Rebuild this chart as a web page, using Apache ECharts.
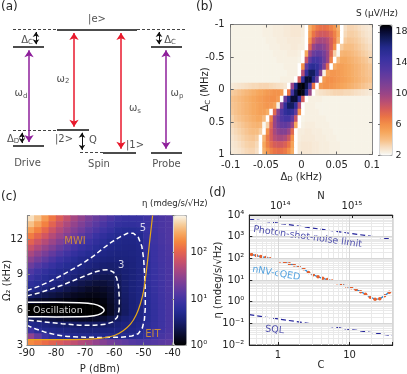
<!DOCTYPE html>
<html>
<head>
<meta charset="utf-8">
<script src="https://cdn.jsdelivr.net/npm/echarts@6/dist/echarts.min.js"></script>
<style>html,body{margin:0;padding:0;background:#fff}#main{width:407px;height:374px}</style>
</head>
<body>
<div id="main"></div>
<script>
// ---------- (a) level scheme: x = column position, y = energy (arb. units) ----------
var levelsSolid  = [[57,137,100],[13,44,86],[151,182,86],[57,89,18],[13,44,5.5],[103,136,0],[151,182,0]];
var levelsDashed = [[13,57,100],[137,187,100],[13,57,18],[80,103,0]];
var arrowsBlack  = [[36,100,86],[159,100,86],[22,18,5.5],[82,18,0]];
var arrowsPurple = [[29,86,5.5],[166,86,0]];
var arrowsRed    = [[74,100,18],[121,100,0]];
var aText = [['|e>',97,108.5],['Δ{s|C}',27,91.4],['Δ{s|C}',170,91.4],['ω{s|d}',21,47.9],
  ['ω{s|2}',63,59.7],['ω{s|s}',135,35.7],['ω{s|p}',177,47.9],['Δ{s|D}',13,10.8],
  ['|2>',64,10.8],['Q',93,9.6],['|1>',135,5.9],['Drive',27.5,-8.7],['Spin',99,-9.5],['Probe',166.5,-9.5]];

// ---------- (b) S(ΔD, ΔC) in µV/Hz, rows from ΔC = -0.95 (top) to 0.95 ----------
var bDd = [-0.0975,-0.0925,-0.0875,-0.0825,-0.0775,-0.0725,-0.0675,-0.0625,-0.0575,-0.0525,
  -0.0475,-0.0425,-0.0375,-0.0325,-0.0275,-0.0225,-0.0175,-0.0125,-0.0075,-0.0025,
  0.0025,0.0075,0.0125,0.0175,0.0225,0.0275,0.0325,0.0375,0.0425,0.0475,
  0.0525,0.0575,0.0625,0.0675,0.0725,0.0775,0.0825,0.0875,0.0925,0.0975];
var bDc = [-0.95,-0.85,-0.75,-0.65,-0.55,-0.45,-0.35,-0.25,-0.15,-0.05,0.05,0.15,0.25,0.35,0.45,0.55,0.65,0.75,0.85,0.95];
var bS = [
  [2.3,2.3,2.3,2.3,2.3,2.3,2.3,2.3,2.3,2.4,2.4,2.4,2.5,2.5,2.5,2.6,2.6,2.7,2.7,2.7,2.6,2.0,4.8,6,6.8,7.1,7.2,7,6.5,5.8,4.6,2.0,3.0,3.3,3.3,3.2,3.0,2.8,2.7,2.6],
  [2.3,2.3,2.3,2.3,2.3,2.3,2.3,2.3,2.3,2.4,2.4,2.4,2.5,2.5,2.5,2.6,2.6,2.7,2.7,2.7,2.6,2.0,5.2,7,7.8,8.2,8.2,8,7.4,6.5,5,2.0,3.2,3.5,3.5,3.4,3.2,3.0,2.8,2.7],
  [2.3,2.3,2.3,2.3,2.3,2.3,2.3,2.3,2.3,2.3,2.4,2.4,2.4,2.5,2.5,2.5,2.6,2.6,2.6,2.6,2.5,2.0,6,8.3,9.3,9.6,9.5,9,8,6.8,4.5,2.0,3.6,3.8,3.7,3.6,3.4,3.2,3.0,2.8],
  [2.3,2.3,2.3,2.3,2.3,2.3,2.3,2.3,2.3,2.3,2.3,2.4,2.4,2.4,2.5,2.5,2.5,2.6,2.6,2.5,2.5,2.0,7.5,10,11,11,10.5,9.5,8,6,2.0,3.6,4.1,4.1,4,3.8,3.6,3.4,3.2,3.0],
  [2.3,2.3,2.3,2.3,2.3,2.3,2.3,2.3,2.3,2.3,2.3,2.3,2.4,2.4,2.4,2.4,2.5,2.5,2.5,2.4,2.0,5,10,12,12.5,12.3,11.5,10,7.5,3.5,2.2,4.4,4.5,4.4,4.2,4,3.8,3.6,3.4,3.2],
  [2.3,2.3,2.3,2.3,2.3,2.3,2.3,2.3,2.3,2.3,2.3,2.3,2.3,2.4,2.4,2.4,2.4,2.4,2.4,2.3,2.0,8.5,12.5,14,14,13.3,12,10,6.5,2.0,4.2,4.9,4.9,4.7,4.5,4.3,4.1,3.9,3.7,3.4],
  [2.3,2.3,2.3,2.3,2.3,2.3,2.3,2.3,2.3,2.3,2.3,2.3,2.3,2.3,2.3,2.4,2.4,2.4,2.4,2.0,6,12.5,15,15.5,15,13.5,11,7.5,2.0,4.8,5.3,5.3,5.1,4.9,4.7,4.5,4.3,4.1,3.9,3.7],
  [2.3,2.3,2.3,2.3,2.3,2.3,2.3,2.3,2.3,2.3,2.3,2.3,2.3,2.3,2.3,2.3,2.4,2.4,2.4,2.0,9,15,17,17,15,11,2.4,5.2,5.7,5.7,5.5,5.3,5.1,4.9,4.7,4.5,4.3,4.1,3.9,3.8],
  [2.3,2.3,2.3,2.3,2.3,2.3,2.3,2.3,2.3,2.3,2.3,2.3,2.3,2.3,2.4,2.4,2.4,2.4,2.0,8,15,18,18,16,12,2.0,5.5,6,6,5.8,5.6,5.4,5.2,5,4.8,4.6,4.4,4.2,4.0,3.9],
  [2.6,2.7,2.8,2.9,3.0,3.1,3.2,3.2,3.3,3.3,3.3,3.2,3.1,3.0,2.9,2.7,2.0,10,16,18.5,18.8,17.5,14,7,2.0,5.5,5.9,5.9,5.7,5.5,5.3,5.1,4.9,4.7,4.5,4.3,4.1,3.9,3.7,3.6],
  [3.6,3.7,3.9,4.1,4.3,4.5,4.7,4.9,5.1,5.3,5.5,5.7,5.9,5.9,5.5,2.0,7,14,17.5,18.8,18.5,16,10,2.0,2.7,2.9,3.0,3.1,3.2,3.3,3.3,3.3,3.2,3.2,3.1,3.0,2.9,2.8,2.7,2.6],
  [3.9,4.0,4.2,4.4,4.6,4.8,5,5.2,5.4,5.6,5.8,6,6,5.5,2.0,12,16,18,18,15,8,2.0,2.4,2.4,2.4,2.4,2.3,2.3,2.3,2.3,2.3,2.3,2.3,2.3,2.3,2.3,2.3,2.3,2.3,2.3],
  [3.8,3.9,4.1,4.3,4.5,4.7,4.9,5.1,5.3,5.5,5.7,5.7,5.2,2.4,11,15,17,17,15,9,2.0,2.4,2.4,2.4,2.3,2.3,2.3,2.3,2.3,2.3,2.3,2.3,2.3,2.3,2.3,2.3,2.3,2.3,2.3,2.3],
  [3.7,3.9,4.1,4.3,4.5,4.7,4.9,5.1,5.3,5.3,4.8,2.0,7.5,11,13.5,15,15.5,15,12.5,6,2.0,2.4,2.4,2.4,2.4,2.3,2.3,2.3,2.3,2.3,2.3,2.3,2.3,2.3,2.3,2.3,2.3,2.3,2.3,2.3],
  [3.4,3.7,3.9,4.1,4.3,4.5,4.7,4.9,4.9,4.2,2.0,6.5,10,12,13.3,14,14,12.5,8.5,2.0,2.3,2.4,2.4,2.4,2.4,2.4,2.4,2.3,2.3,2.3,2.3,2.3,2.3,2.3,2.3,2.3,2.3,2.3,2.3,2.3],
  [3.2,3.4,3.6,3.8,4,4.2,4.4,4.5,4.4,2.2,3.5,7.5,10,11.5,12.3,12.5,12,10,5,2.0,2.4,2.5,2.5,2.5,2.4,2.4,2.4,2.4,2.3,2.3,2.3,2.3,2.3,2.3,2.3,2.3,2.3,2.3,2.3,2.3],
  [3.0,3.2,3.4,3.6,3.8,4,4.1,4.1,3.6,2.0,6,8,9.5,10.5,11,11,10,7.5,2.0,2.5,2.5,2.6,2.6,2.5,2.5,2.5,2.4,2.4,2.4,2.3,2.3,2.3,2.3,2.3,2.3,2.3,2.3,2.3,2.3,2.3],
  [2.8,3.0,3.2,3.4,3.6,3.7,3.8,3.6,2.0,4.5,6.8,8,9,9.5,9.6,9.3,8.3,6,2.0,2.5,2.6,2.6,2.6,2.6,2.5,2.5,2.5,2.4,2.4,2.4,2.3,2.3,2.3,2.3,2.3,2.3,2.3,2.3,2.3,2.3],
  [2.7,2.8,3.0,3.2,3.4,3.5,3.5,3.2,2.0,5,6.5,7.4,8,8.2,8.2,7.8,7,5.2,2.0,2.6,2.7,2.7,2.7,2.6,2.6,2.5,2.5,2.5,2.4,2.4,2.4,2.3,2.3,2.3,2.3,2.3,2.3,2.3,2.3,2.3],
  [2.6,2.7,2.8,3.0,3.2,3.3,3.3,3.0,2.0,4.6,5.8,6.5,7,7.2,7.1,6.8,6,4.8,2.0,2.6,2.7,2.7,2.7,2.6,2.6,2.5,2.5,2.5,2.4,2.4,2.4,2.3,2.3,2.3,2.3,2.3,2.3,2.3,2.3,2.3]
];

// ---------- (c) η(P, Ω2) in mdeg/s/√Hz, rows from Ω2 = 13.75 down to 3.25 ----------
var cP = [-88.75,-86.25,-83.75,-81.25,-78.75,-76.25,-73.75,-71.25,-68.75,-66.25,-63.75,-61.25,-58.75,-56.25,-53.75,-51.25,-48.75,-46.25,-43.75,-41.25];
var cOm = [13.75,13.25,12.75,12.25,11.75,11.25,10.75,10.25,9.75,9.25,8.75,8.25,7.75,7.25,6.75,6.25,5.75,5.25,4.75,4.25,3.75,3.25];
var cEta = [
  [500,350,220,140,90,60,40,30,22,17,14,11,9,8,8,8,9,10,11,12],
  [350,240,160,100,65,45,32,24,18,14,11,9,7.5,7,7,7.5,8.5,10,11,12],
  [230,160,110,70,48,34,25,19,14,11,9,7.5,6,5.5,5.5,6,8,9.5,11,12],
  [150,105,75,50,35,25,19,14,11,8.5,7,6,5.2,4.8,4.8,5.2,7.5,9,10.5,12],
  [100,70,50,35,25,18,14,10.5,8.5,7,6,5.1,4.7,4.5,4.5,4.8,7,9,10.5,12],
  [65,46,33,24,17,13,10,8,7,6,5.1,4.6,4.4,4.3,4.3,4.6,7,8.5,10,11.5],
  [42,30,22,16,12,9.5,7.5,6.3,5.5,4.9,4.5,4.2,4.1,4.1,4.2,4.5,6.5,8.5,10,11.5],
  [28,20,15,11,8.5,7,5.8,5,4.6,4.2,3.9,3.8,3.8,3.9,4,4.4,6.5,8.5,10,11],
  [18,13,10,8,6.5,5.5,4.8,4.4,4,3.7,3.4,3.3,3.4,3.6,3.9,4.4,6.5,8.3,9.8,11],
  [12,9,7.2,6,5.2,4.7,4.2,3.8,3.4,3.1,2.9,2.95,3.2,3.5,3.8,4.3,6.5,8.3,9.8,11],
  [9,7,5.8,5,4.6,4.2,3.6,3.1,2.8,2.5,2.4,2.4,2.8,3.4,3.8,4.3,6.5,8.2,9.6,11],
  [6.5,5.6,4.8,4.3,3.8,3.1,2.7,2.3,2.1,1.9,1.9,2.1,2.6,3.3,3.8,4.3,6.3,8,9.5,11],
  [4.9,4.4,3.8,3.1,2.7,2.3,2,1.8,1.6,1.5,1.6,1.8,2.4,3.2,3.8,4.3,6,7.8,9.5,11],
  [3.1,2.7,2.4,2.1,1.9,1.7,1.5,1.4,1.3,1.3,1.4,1.7,2.3,3.1,3.7,4.2,5.8,7.6,9.3,10.8],
  [1.8,1.6,1.5,1.4,1.3,1.2,1.2,1.1,1.1,1.1,1.2,1.6,2.2,3,3.6,4.2,5.6,7.4,9.2,10.8],
  [1,1,1,1,1,1,1,1,1,1,1.1,1.5,2.1,2.9,3.6,4.2,5.5,7.3,9,10.7],
  [1,1,1,1,1,1,1,1,1,1,1.1,1.5,2.1,2.9,3.6,4.2,5.5,7.3,9,10.7],
  [2.6,2.4,2.2,2,1.8,1.7,1.6,1.5,1.5,1.6,1.8,2.2,2.9,3.5,4,4.5,5.6,7.3,9,10.7],
  [4.8,4.4,4,3.6,3.3,3.1,3,2.9,2.9,2.9,3,3.2,3.6,4,4.3,4.8,6,7.5,9,10.7],
  [9,6.2,4.9,4.6,4.3,4.1,3.9,3.8,3.8,3.8,3.8,3.9,4.1,4.3,4.6,5.2,6.5,8,9.5,11],
  [30,16,9,6.5,5.6,5.2,5,4.9,4.9,4.9,4.9,4.9,5,5.1,5.3,6,7.5,9,10.5,12],
  [180,150,120,100,85,70,58,48,40,32,26,21,17,15,13,12,12,13,14,15]
];
// contour / boundary curves, [P, Ω2]
var contour5 = [[-90,7.65],[-86,8.0],[-82,8.45],[-78,8.95],[-74,9.5],[-70,10.1],[-67,10.6],[-64,11.2],[-61,11.75],[-58,12.2],[-55.5,12.5],[-53.5,12.5],[-51.8,12.15],[-50.6,11.4],[-50.0,10.4],[-49.6,9.0],[-49.4,7.5],[-49.4,6.2],[-49.7,5.2],[-50.4,4.5],[-51.8,4.0],[-54,3.8],[-58,3.7],[-64,3.68],[-70,3.7],[-76,3.76],[-80,3.9],[-84,4.15],[-87,4.4],[-90,4.7]];
var contour3 = [[-90,7.2],[-86,7.45],[-82,7.75],[-78,8.1],[-74,8.5],[-70,8.9],[-67,9.2],[-64,9.38],[-62,9.42],[-60.3,9.2],[-59.2,8.7],[-58.6,8.0],[-58.3,7.0],[-58.4,6.0],[-59.0,5.4],[-60.5,5.0],[-63,4.8],[-67,4.72],[-72,4.72],[-78,4.85],[-84,5.0],[-90,5.15]];
var oscillation = [[-90,6.65],[-80,6.67],[-72,6.62],[-67,6.5],[-64.6,6.28],[-63.5,6.0],[-64.6,5.7],[-67,5.52],[-72,5.43],[-80,5.42],[-90,5.44]];
var eitLine = [[-90,3.5],[-80,3.5],[-70,3.52],[-65,3.6],[-60,3.85],[-57,4.25],[-54.5,4.8],[-52.5,5.6],[-51,6.6],[-50,7.6],[-49.3,8.8],[-48.6,10.2],[-48.0,11.6],[-47.4,12.9],[-46.9,14]];
var cText = [['MWI',-73.5,11.8],['5',-50.2,12.95],['3',-57.7,9.75],['Oscillation',-79.4,6.0],['EIT',-46.8,3.97]];

// ---------- (d) η versus cooperativity C ----------
var dC   = [0.43,0.5,0.58,0.68,0.79,0.92,1.07,1.25,1.45,1.69,1.97,2.3,2.68,3.12,3.63,4.23,4.93,5.74,6.69,7.79,9.08,10.6,12.3,14.3,16.7,19.5,22.7,26.4,30.8,35.9];
var dEta = [150,135,120,108,96,85,76,66,56,49,42,33,22,17.5,14,12,10.5,9,7.5,6.3,5.2,4.4,3.6,2.9,2.2,1.6,1.3,1.35,1.9,2.7];
var shotC = [0.4, 40], shotEta = [6500, 750];
var sqlC = [0.4, 40], sqlEta = [0.25, 0.027];
var dText = [['Photon-shot-noise limit',2.6,960,-8],['nNV-cQED',0.95,20,-10],['SQL',0.9,0.05,-5]];

// ----------------------------------------------------------------
var FONT = 'DejaVu Sans', TXT = '#262626';
var cmap = ['#000000','#080a25','#101650','#1a2178','#262c95','#3a32a2','#5538a2','#733d9a','#92438d','#b24a7a','#d15563','#e9684a','#f5873f','#f6aa63','#f6cf9f','#f9f5ea'];
// colour stops of the (b) colour bar, keyed on S
var bStops = [[2.0,'#ffffff'],[2.3,'#f7f2e7'],[3.0,'#f7dfc4'],[4.0,'#f7bf86'],[5.0,'#f6a75c'],[6.0,'#f3904a'],
  [7.0,'#ea7446'],[8.0,'#d65d5a'],[9.0,'#b84e74'],[10,'#9a4586'],[11.5,'#763f98'],[13,'#5538a2'],
  [14.5,'#3a32a2'],[16,'#232a8c'],[17.2,'#111a58'],[18.2,'#06082a'],[18.9,'#000000']];
function sampleStops(stops, n) {
  var lo = stops[0][0], hi = stops[stops.length - 1][0], out = [];
  function rgb(h) { return [parseInt(h.slice(1, 3), 16), parseInt(h.slice(3, 5), 16), parseInt(h.slice(5, 7), 16)]; }
  for (var i = 0; i < n; i++) {
    var v = lo + (hi - lo) * i / (n - 1), k = 0;
    while (k < stops.length - 2 && v > stops[k + 1][0]) k++;
    var a = stops[k], b = stops[k + 1], t = Math.min(1, Math.max(0, (v - a[0]) / (b[0] - a[0])));
    var ca = rgb(a[1]), cb = rgb(b[1]);
    out.push('rgb(' + ca.map(function (x, j) { return Math.round(x + (cb[j] - x) * t); }).join(',') + ')');
  }
  return out;
}
var SUB = {fontSize: 7, fontFamily: FONT, color: TXT, verticalAlign: 'bottom', padding: [5, 0, 0, 0]};
var supMap = {'-':'⁻','0':'⁰','1':'¹','2':'²','3':'³','4':'⁴','5':'⁵','6':'⁶','7':'⁷','8':'⁸','9':'⁹'};
function sup(n) { return String(n).split('').map(function (c) { return supMap[c]; }).join(''); }
function decade(v, plain) {
  var e = Math.log10(v), r = Math.round(e);
  if (Math.abs(e - r) > 1e-6) return '';
  return plain ? String(Math.pow(10, r)) : '10' + sup(r);
}
var PXE = 1.2285; // px per energy unit in (a)
function segs(list) { return list.map(function (l) { return {coords: [[l[0], l[2]], [l[1], l[2]]]}; }); }
function arrows(list, size) {
  var d = size / 2 / PXE;
  return list.map(function (a) {
    var s = a[2] > a[1] ? d : -d;
    return {coords: [[a[0], a[1] + s], [a[0], a[2] - s]]};
  });
}
function labels(list) { return list.map(function (t) { return {name: t[0], value: [t[1], t[2]]}; }); }

var bData = [];
bS.forEach(function (row, r) { row.forEach(function (v, c) { bData.push([c, r, v]); }); });
var cData = [];
cEta.forEach(function (row, r) { row.forEach(function (v, c) { cData.push([c, cOm.length - 1 - r, Math.log10(v)]); }); });

var minorX = [], minorY = [];
[0.1, 1, 10].forEach(function (b) { for (var k = 2; k <= 9; k++) { var v = +(k * b).toPrecision(3); if (v > 0.4 && v < 40) minorX.push({xAxis: v}); } });
[0.01, 0.1, 1, 10, 100, 1000].forEach(function (b) { for (var k = 2; k <= 9; k++) minorY.push({yAxis: +(k * b).toPrecision(3)}); });

var lab = {color: TXT, fontSize: 10, fontFamily: FONT};
var nameStyle = {color: TXT, fontSize: 10, fontFamily: FONT, rich: {s: SUB}};

var chart = echarts.init(document.getElementById('main'));
chart.setOption({
  animation: false,
  textStyle: {fontFamily: FONT},
  grid: [
    {left: 0, top: 17.2, width: 200, height: 159.7, outerBoundsMode: 'none'},
    {left: 230.7, top: 24.5, width: 141.3, height: 130, outerBoundsMode: 'none'},
    {left: 380, top: 25, width: 12, height: 130.5, outerBoundsMode: 'none', show: true, borderColor: '#999', borderWidth: 0.8, backgroundColor: 'transparent'},
    {left: 27, top: 215.5, width: 145.7, height: 130, outerBoundsMode: 'none'},
    {left: 174, top: 215.5, width: 12.5, height: 130, outerBoundsMode: 'none', show: true, borderColor: '#999', borderWidth: 0.8, backgroundColor: 'transparent'},
    {left: 249.3, top: 215, width: 143.4, height: 130, outerBoundsMode: 'none', show: true, borderColor: '#262626', borderWidth: 0.8, backgroundColor: '#fff'}
  ],
  visualMap: [
    {type: 'continuous', seriesIndex: 6, min: 2, max: 18.9, calculable: false, show: true, left: 380, top: 25,
     itemWidth: 12, itemHeight: 130.5, padding: 0, inRange: {color: sampleStops(bStops, 120)}},
    {type: 'continuous', seriesIndex: 7, min: 0, max: 2.8, calculable: false, show: true, left: 174, top: 215.5,
     itemWidth: 12.5, itemHeight: 130, padding: 0, inRange: {color: cmap}}
  ],
  xAxis: [
    {gridIndex: 0, type: 'value', min: 0, max: 200, show: false},
    {gridIndex: 1, type: 'category', data: bDd, show: false},
    {gridIndex: 1, type: 'value', min: -0.1, max: 0.1, interval: 0.05, position: 'bottom', z: 10,
     axisLine: {onZero: false, lineStyle: {color: '#888'}}, axisTick: {inside: true, length: 3, lineStyle: {color: '#666'}},
     splitLine: {show: false}, axisLabel: Object.assign({margin: 6}, lab),
     name: 'Δ{s|D} (kHz)', nameLocation: 'middle', nameGap: 16.5, nameMoveOverlap: false, nameTextStyle: nameStyle},
    {gridIndex: 1, type: 'value', min: -0.1, max: 0.1, interval: 0.05, position: 'top', z: 10,
     axisLine: {onZero: false, lineStyle: {color: '#888'}}, axisTick: {inside: true, length: 3, lineStyle: {color: '#666'}},
     splitLine: {show: false}, axisLabel: {show: false}},
    {gridIndex: 2, type: 'value', min: 0, max: 1, show: false},
    {gridIndex: 3, type: 'category', data: cP, show: false},
    {gridIndex: 3, type: 'value', min: -90, max: -40, interval: 10, position: 'bottom', z: 10,
     axisLine: {onZero: false, lineStyle: {color: '#888'}}, axisTick: {inside: true, length: 3, lineStyle: {color: '#888'}},
     splitLine: {show: false}, axisLabel: Object.assign({margin: 3}, lab),
     name: 'P (dBm)', nameLocation: 'middle', nameGap: 18.5, nameMoveOverlap: false, nameTextStyle: nameStyle},
    {gridIndex: 4, type: 'value', min: 0, max: 1, show: false},
    {gridIndex: 5, type: 'log', min: 0.4, max: 40, position: 'bottom', z: 10,
     axisLine: {onZero: false, lineStyle: {color: '#262626'}}, axisTick: {inside: true, length: 3, lineStyle: {color: '#262626'}},
     splitLine: {show: true, lineStyle: {color: '#d6d6d6', width: 1}},
     axisLabel: Object.assign({margin: 5, formatter: function (v) { return decade(v, true); }}, lab),
     name: 'C', nameLocation: 'middle', nameGap: 15, nameMoveOverlap: false, nameTextStyle: nameStyle},
    {gridIndex: 5, type: 'log', min: 3.7e13, max: 3.7e15, position: 'top', z: 10,
     axisLine: {onZero: false, lineStyle: {color: '#262626'}}, axisTick: {inside: true, length: 3, lineStyle: {color: '#262626'}},
     splitLine: {show: false},
     axisLabel: Object.assign({margin: 4, formatter: function (v) { return decade(v); }}, lab),
     name: 'N', nameLocation: 'middle', nameGap: 13.5, nameMoveOverlap: false, nameTextStyle: nameStyle}
  ],
  yAxis: [
    {gridIndex: 0, type: 'value', min: -20, max: 110, show: false},
    {gridIndex: 1, type: 'category', data: bDc, inverse: true, show: false},
    {gridIndex: 1, type: 'value', min: -1, max: 1, interval: 0.5, inverse: true, position: 'left', z: 10,
     axisLine: {show: true, onZero: false, lineStyle: {color: '#888'}}, axisTick: {show: true, inside: true, length: 3, lineStyle: {color: '#666'}},
     splitLine: {show: false}, axisLabel: Object.assign({margin: 6}, lab),
     name: 'Δ{s|C} (MHz)', nameLocation: 'middle', nameGap: 19.5, nameMoveOverlap: false, nameTextStyle: nameStyle},
    {gridIndex: 1, type: 'value', min: -1, max: 1, interval: 0.5, inverse: true, position: 'right', z: 10,
     axisLine: {show: true, onZero: false, lineStyle: {color: '#888'}}, axisTick: {show: true, inside: true, length: 3, lineStyle: {color: '#666'}},
     splitLine: {show: false}, axisLabel: {show: false}},
    {gridIndex: 2, type: 'value', min: 2, max: 18.9, interval: 4, position: 'right', z: 10,
     axisLine: {show: false}, axisTick: {show: true, inside: true, length: 2, lineStyle: {color: '#777'}},
     splitLine: {show: false},
     axisLabel: {margin: 3.5, color: TXT, fontSize: 9.5, fontFamily: FONT, formatter: function (v) { return (v - 2) % 4 === 0 ? v : ''; }}},
    {gridIndex: 3, type: 'category', data: cOm.slice().reverse(), show: false},
    {gridIndex: 3, type: 'value', min: 3, max: 14, interval: 3, position: 'left', z: 10,
     axisLine: {show: true, onZero: false, lineStyle: {color: '#888'}}, axisTick: {show: true, inside: true, length: 3, lineStyle: {color: '#888'}},
     splitLine: {show: false},
     axisLabel: Object.assign({margin: 4, formatter: function (v) { return v % 3 === 0 ? v : ''; }}, lab),
     name: 'Ω₂ (kHz)', nameLocation: 'middle', nameGap: 14.5, nameMoveOverlap: false, nameTextStyle: nameStyle},
    {gridIndex: 4, type: 'value', min: 0, max: 2.8, interval: 1, position: 'right', z: 10,
     axisLine: {show: false}, axisTick: {show: true, inside: true, length: 2, lineStyle: {color: '#777'}},
     splitLine: {show: false},
     axisLabel: Object.assign({margin: 4, formatter: function (v) { return Number.isInteger(v) ? '10' + sup(v) : ''; }}, lab)},
    {gridIndex: 5, type: 'log', min: 0.01, max: 10000, position: 'left', z: 10,
     axisLine: {show: true, onZero: false, lineStyle: {color: '#262626'}}, axisTick: {show: true, inside: true, length: 3, lineStyle: {color: '#262626'}},
     splitLine: {show: true, lineStyle: {color: '#d6d6d6', width: 1}},
     axisLabel: Object.assign({margin: 5, formatter: function (v) { return decade(v); }}, lab),
     name: 'η (mdeg/s/√Hz)', nameLocation: 'middle', nameGap: 26, nameMoveOverlap: false, nameTextStyle: nameStyle}
  ],
  graphic: [
    {type: 'text', left: 1, top: 1, style: {text: '(a)', fontSize: 12, fontFamily: FONT, fill: TXT}},
    {type: 'text', left: 196, top: 1, style: {text: '(b)', fontSize: 12, fontFamily: FONT, fill: TXT}},
    {type: 'text', left: 1, top: 191, style: {text: '(c)', fontSize: 12, fontFamily: FONT, fill: TXT}},
    {type: 'text', left: 209, top: 187, style: {text: '(d)', fontSize: 12, fontFamily: FONT, fill: TXT}},
    {type: 'text', left: 356, top: 9, style: {text: 'S (μV/Hz)', fontSize: 9, fontFamily: FONT, fill: TXT}},
    {type: 'text', left: 142, top: 199, style: {text: 'η (mdeg/s/√Hz)', fontSize: 8.5, fontFamily: FONT, fill: TXT}}
  ],
  series: [
    {type: 'lines', coordinateSystem: 'cartesian2d', xAxisIndex: 0, yAxisIndex: 0, symbol: 'none',
     lineStyle: {color: '#111', width: 1.6, opacity: 1}, data: segs(levelsSolid)},
    {type: 'lines', coordinateSystem: 'cartesian2d', xAxisIndex: 0, yAxisIndex: 0, symbol: 'none',
     lineStyle: {color: '#444', width: 1, type: [3, 2], opacity: 1}, data: segs(levelsDashed)},
    {type: 'lines', coordinateSystem: 'cartesian2d', xAxisIndex: 0, yAxisIndex: 0, symbol: ['arrow', 'arrow'], symbolSize: 5,
     lineStyle: {color: '#111', width: 1, opacity: 1}, data: arrows(arrowsBlack, 5)},
    {type: 'lines', coordinateSystem: 'cartesian2d', xAxisIndex: 0, yAxisIndex: 0, symbol: ['arrow', 'arrow'], symbolSize: 7,
     lineStyle: {color: '#8e1f9b', width: 1.5, opacity: 1}, data: arrows(arrowsPurple, 7)},
    {type: 'lines', coordinateSystem: 'cartesian2d', xAxisIndex: 0, yAxisIndex: 0, symbol: ['arrow', 'arrow'], symbolSize: 7,
     lineStyle: {color: '#e8192c', width: 1.5, opacity: 1}, data: arrows(arrowsRed, 7)},
    {type: 'scatter', xAxisIndex: 0, yAxisIndex: 0, symbolSize: 0, itemStyle: {color: 'rgba(0,0,0,0)'},
     label: {show: true, position: 'inside', formatter: function (p) { return p.name; }, color: TXT, fontSize: 10, fontFamily: FONT, rich: {s: SUB}},
     data: labels(aText)},
    {type: 'heatmap', xAxisIndex: 1, yAxisIndex: 1, data: bData},
    {type: 'heatmap', xAxisIndex: 5, yAxisIndex: 5, data: cData},
    {type: 'line', xAxisIndex: 6, yAxisIndex: 6, data: contour5, symbol: 'none', z: 5,
     lineStyle: {color: '#fff', width: 1.5, type: [5, 3]}},
    {type: 'line', xAxisIndex: 6, yAxisIndex: 6, data: contour3, symbol: 'none', z: 5,
     lineStyle: {color: '#fff', width: 1.5, type: [5, 3]}},
    {type: 'line', xAxisIndex: 6, yAxisIndex: 6, data: oscillation, symbol: 'none', smooth: 0.3, z: 5,
     lineStyle: {color: '#fff', width: 1.5}},
    {type: 'line', xAxisIndex: 6, yAxisIndex: 6, data: eitLine, symbol: 'none', smooth: 0.2, z: 5,
     lineStyle: {color: '#e6a817', width: 1.2}},
    {type: 'scatter', xAxisIndex: 6, yAxisIndex: 6, symbolSize: 0, itemStyle: {color: 'rgba(0,0,0,0)'}, z: 6,
     label: {show: true, position: 'inside', fontSize: 10, fontFamily: FONT,
       formatter: function (p) { return p.name; }, color: '#fff'},
     data: labels(cText).map(function (d) {
       if (d.name === 'MWI' || d.name === 'EIT') d.label = {color: '#e8a020'};
       if (d.name === 'Oscillation') d.label = {fontSize: 9.5};
       return d;
     })},
    {type: 'line', xAxisIndex: 8, yAxisIndex: 8, data: [[0.4, 0.01], [40, 0.01]], symbol: 'none', z: 1,
     lineStyle: {opacity: 0},
     markLine: {silent: true, symbol: 'none', label: {show: false}, animation: false,
       lineStyle: {color: '#e9e9e9', type: 'solid', width: 1}, data: minorX.concat(minorY)}},
    {type: 'line', xAxisIndex: 8, yAxisIndex: 8, symbol: 'none', z: 3,
     data: shotC.map(function (c, i) { return [c, shotEta[i]]; }),
     lineStyle: {color: '#24249a', width: 1.2, type: [5, 3]}},
    {type: 'line', xAxisIndex: 8, yAxisIndex: 8, symbol: 'none', z: 3,
     data: sqlC.map(function (c, i) { return [c, sqlEta[i]]; }),
     lineStyle: {color: '#24249a', width: 1.2, type: [5, 3]}},
    {type: 'line', xAxisIndex: 8, yAxisIndex: 8, z: 4, symbol: 'circle', symbolSize: 3.5, showSymbol: true,
     data: dC.map(function (c, i) { return [c, dEta[i]]; }),
     lineStyle: {color: '#2b8cd8', width: 1.3}, itemStyle: {color: '#e8602c', borderWidth: 0}},
    {type: 'scatter', xAxisIndex: 8, yAxisIndex: 8, symbolSize: 0, itemStyle: {color: 'rgba(0,0,0,0)'}, z: 6,
     label: {show: true, position: 'inside', fontSize: 9.5, fontFamily: FONT, color: '#24249a',
       formatter: function (p) { return p.name; }},
     data: dText.map(function (t) {
       var d = {name: t[0], value: [t[1], t[2]], label: {rotate: t[3]}};
       if (t[0] === 'nNV-cQED') d.label.color = '#2b8cd8';
       return d;
     })}
  ]
});
</script>
</body>
</html>
